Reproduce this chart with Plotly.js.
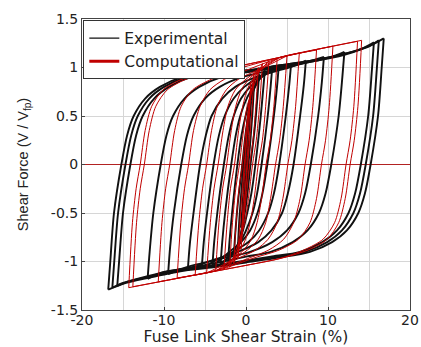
<!DOCTYPE html>
<html>
<head>
<meta charset="utf-8">
<script src="https://cdn.plot.ly/plotly-3.0.1.min.js"></script>
<style>html,body{margin:0;padding:0;background:#fff;}#chart{width:421px;height:347px;}</style>
</head>
<body>
<div id="chart"></div>
<script>
// ---- Experimental loops (each: descending branch then ascending branch, strain %, V/Vfp) ----
const expX_168 = [16.8,16.55,16.1,15.2,14.5,13.7,12.3,10.5,7.8,4,0,-4,-8,-12,-15,-16.8,-16.55,-16.1,-15.2,-14.5,-13.7,-12.3,-10.5,-7.8,-4,0,4,8,12,15,16.8];
const expY_168 = [1.30,1.0,0.5,0,-0.3,-0.5,-0.68,-0.8,-0.9,-0.96,-1.01,-1.06,-1.10,-1.17,-1.23,-1.29,-1.0,-0.5,0,0.3,0.5,0.68,0.8,0.9,0.95,0.97,1.02,1.07,1.14,1.22,1.30];
const expX_162 = [16.2,15.95,15.5,14.6,13.9,13.1,11.7,9.9,7.2,4,0,-4,-8,-12,-15,-16.3,-16.05,-15.6,-14.7,-14.0,-13.2,-11.8,-10.0,-7.3,-4,0,4,8,12,14.8,16.2];
const expY_162 = [1.28,0.98,0.5,0,-0.3,-0.5,-0.68,-0.8,-0.9,-0.95,-1.0,-1.05,-1.09,-1.16,-1.22,-1.27,-0.98,-0.5,0,0.3,0.5,0.68,0.8,0.9,0.95,0.97,1.02,1.07,1.14,1.21,1.28];
const expX_156 = [15.6,15.35,14.9,14.0,13.3,12.5,11.1,9.3,6.6,3,0,-4,-8,-12,-14.5,-15.7,-15.45,-15.0,-14.1,-13.4,-12.6,-11.2,-9.4,-6.7,-3,0,4,8,12,14.3,15.6];
const expY_156 = [1.26,0.97,0.5,0,-0.3,-0.5,-0.68,-0.8,-0.9,-0.95,-0.99,-1.04,-1.08,-1.15,-1.21,-1.25,-0.97,-0.5,0,0.3,0.5,0.68,0.8,0.9,0.94,0.96,1.01,1.06,1.13,1.20,1.26];
const expX_120 = [12,11.75,11.3,10.4,9.7,8.9,7.5,5.7,3,0,-4,-8,-10.5,-12,-11.75,-11.3,-10.4,-9.7,-8.9,-7.5,-5.7,-3,0,4,8,10.5,12];
const expY_120 = [1.16,0.9,0.5,0,-0.3,-0.5,-0.68,-0.8,-0.9,-0.95,-1.02,-1.08,-1.12,-1.18,-0.9,-0.5,0,0.3,0.5,0.68,0.8,0.9,0.95,1.0,1.06,1.11,1.16];
const expX_95 = [9.5,9.25,8.8,7.9,7.2,6.4,5.0,3.2,0.5,-3,-6,-8,-9.5,-9.25,-8.8,-7.9,-7.2,-6.4,-5.0,-3.2,-0.5,3,6,8,9.5];
const expY_95 = [1.11,0.85,0.5,0,-0.3,-0.5,-0.68,-0.8,-0.9,-0.97,-1.03,-1.08,-1.13,-0.85,-0.5,0,0.3,0.5,0.68,0.8,0.9,0.97,1.02,1.07,1.11];
const expX_72 = [7.3,7.05,6.6,5.8,5.1,4.4,3.1,1.5,-1.0,-3.5,-5.5,-7.1,-6.85,-6.4,-5.6,-4.9,-4.2,-2.9,-1.3,1.2,3.6,5.6,7.3];
const expY_72 = [1.07,0.82,0.5,0,-0.3,-0.5,-0.68,-0.8,-0.9,-0.97,-1.03,-1.09,-0.82,-0.5,0,0.3,0.5,0.68,0.8,0.9,0.96,1.01,1.07];
const expX_54 = [5.5,5.25,4.85,4.05,3.4,2.7,1.6,0.3,-1.6,-3.5,-5.4,-5.15,-4.75,-3.95,-3.3,-2.6,-1.5,-0.2,1.6,3.6,5.5];
const expY_54 = [1.04,0.8,0.5,0,-0.3,-0.5,-0.68,-0.8,-0.9,-0.98,-1.07,-0.8,-0.5,0,0.3,0.5,0.68,0.8,0.9,0.97,1.04];
const expX_40 = [4.0,3.78,3.4,2.6,2.0,1.4,0.5,-0.6,-2.0,-4.1,-3.88,-3.5,-2.7,-2.1,-1.5,-0.6,0.5,1.9,4.0];
const expY_40 = [1.02,0.8,0.5,0,-0.3,-0.5,-0.68,-0.8,-0.9,-1.05,-0.8,-0.5,0,0.3,0.5,0.68,0.8,0.9,1.02];
const expX_32 = [3.2,3.0,2.65,1.9,1.35,0.8,-0.1,-1.2,-3.1,-2.9,-2.55,-1.8,-1.25,-0.7,0.2,1.3,3.2];
const expY_32 = [1.0,0.8,0.5,0,-0.3,-0.5,-0.7,-0.87,-1.03,-0.8,-0.5,0,0.3,0.5,0.7,0.85,1.0];
const expX_22 = [2.3,2.1,1.8,1.15,0.65,0.15,-0.7,-2.2,-2.0,-1.7,-1.05,-0.55,-0.05,0.8,2.3];
const expY_22 = [0.97,0.78,0.5,0,-0.3,-0.5,-0.77,-1.0,-0.78,-0.5,0,0.3,0.5,0.75,0.97];
const expX_15 = [1.6,1.4,1.1,0.55,0.1,-0.55,-1.5,-1.3,-1.0,-0.45,0.0,0.65,1.6];
const expY_15 = [0.93,0.7,0.4,0,-0.35,-0.7,-0.96,-0.7,-0.4,0,0.35,0.68,0.93];
const expX_10 = [1.0,0.8,0.3,-0.2,-0.6,-1.0,-0.8,-0.3,0.2,0.6,1.0];
const expY_10 = [0.86,0.55,0,-0.45,-0.7,-0.88,-0.55,0,0.45,0.7,0.86];
const expX_06 = [0.6,0.25,-0.2,-0.6,-0.25,0.2,0.6];
const expY_06 = [0.65,0.2,-0.35,-0.65,-0.2,0.35,0.65];

// ---- Computational loops ----
const comX_141 = [14.1,13.65,13.2,12.7,12.1,11.3,9.9,7.6,4.6,0,-5,-10,-14.3,-13.85,-13.4,-12.9,-12.3,-11.5,-10.1,-7.8,-4.8,0,5,10,14.1];
const comY_141 = [1.28,0.6,0.25,0,-0.35,-0.6,-0.77,-0.88,-0.96,-1.04,-1.12,-1.2,-1.27,-0.6,-0.25,0,0.35,0.6,0.77,0.88,0.94,1.03,1.12,1.21,1.28];
const comX_136 = [13.6,13.15,12.7,12.2,11.6,10.8,9.4,7.1,4.1,0,-5,-10,-13.8,-13.35,-12.9,-12.4,-11.8,-11.0,-9.6,-7.3,-4.3,0,5,10,13.6];
const comY_136 = [1.27,0.6,0.25,0,-0.35,-0.6,-0.77,-0.88,-0.97,-1.04,-1.12,-1.2,-1.26,-0.6,-0.25,0,0.35,0.6,0.77,0.88,0.95,1.03,1.12,1.21,1.27];
const comX_106 = [10.6,10.15,9.7,9.2,8.6,7.8,6.4,4.1,1.1,-3,-7,-10.7,-10.25,-9.8,-9.3,-8.7,-7.9,-6.5,-4.2,-1.2,3,7,10.6];
const comY_106 = [1.22,0.6,0.25,0,-0.35,-0.6,-0.77,-0.88,-0.96,-1.08,-1.15,-1.21,-0.6,-0.25,0,0.35,0.6,0.77,0.88,0.98,1.08,1.16,1.22];
const comX_86 = [8.6,8.15,7.7,7.2,6.6,5.8,4.6,2.8,0.2,-4,-8.4,-7.95,-7.5,-7.0,-6.4,-5.6,-4.4,-2.6,0,4.5,8.6];
const comY_86 = [1.18,0.6,0.25,0,-0.35,-0.6,-0.77,-0.88,-0.97,-1.1,-1.17,-0.6,-0.25,0,0.35,0.6,0.77,0.88,0.97,1.11,1.18];
const comX_65 = [6.5,6.05,5.6,5.1,4.5,3.8,2.7,1.2,-1.0,-3.5,-6.2,-5.75,-5.3,-4.8,-4.2,-3.5,-2.4,-0.9,1.3,4.0,6.5];
const comY_65 = [1.15,0.6,0.25,0,-0.35,-0.6,-0.77,-0.88,-0.97,-1.09,-1.14,-0.6,-0.25,0,0.35,0.6,0.77,0.88,0.97,1.1,1.15];
const comX_50 = [5.0,4.55,4.1,3.6,3.0,2.4,1.5,0.2,-1.6,-4.8,-4.35,-3.9,-3.4,-2.8,-2.2,-1.3,0.0,1.8,5.0];
const comY_50 = [1.12,0.6,0.25,0,-0.35,-0.6,-0.77,-0.88,-0.98,-1.12,-0.6,-0.25,0,0.35,0.6,0.77,0.88,0.98,1.12];
const comX_38 = [3.8,3.4,2.95,2.45,1.9,1.35,0.6,-0.5,-3.7,-3.3,-2.85,-2.35,-1.8,-1.25,-0.5,0.6,3.8];
const comY_38 = [1.09,0.6,0.25,0,-0.35,-0.6,-0.78,-0.9,-1.10,-0.6,-0.25,0,0.35,0.6,0.78,0.9,1.09];
const comX_28 = [2.8,2.4,2.0,1.5,1.0,0.5,-0.3,-2.7,-2.3,-1.9,-1.4,-0.9,-0.4,0.4,2.8];
const comY_28 = [1.07,0.6,0.25,0,-0.35,-0.6,-0.82,-1.08,-0.6,-0.25,0,0.35,0.6,0.82,1.07];
const comX_20 = [2.0,1.65,1.25,0.8,0.3,-0.2,-2.0,-1.65,-1.25,-0.8,-0.3,0.2,2.0];
const comY_20 = [1.04,0.6,0.25,0,-0.35,-0.62,-1.06,-0.6,-0.25,0,0.35,0.62,1.04];
const comX_15 = [1.5,1.2,0.85,0.45,0.0,-0.5,-1.5,-1.2,-0.85,-0.45,0.0,0.5,1.5];
const comY_15 = [1.0,0.6,0.25,0,-0.35,-0.7,-1.02,-0.6,-0.25,0,0.35,0.7,1.0];
const comX_10 = [1.0,0.75,0.45,0.1,-0.3,-1.0,-0.75,-0.45,-0.1,0.3,1.0];
const comY_10 = [0.95,0.6,0.25,-0.1,-0.5,-0.97,-0.6,-0.25,0.1,0.5,0.95];
const comX_06 = [0.6,0.3,-0.1,-0.6,-0.3,0.1,0.6];
const comY_06 = [0.85,0.3,-0.3,-0.87,-0.3,0.3,0.85];

// ---- Axis ticks ----
const xTickVals = [-20,-10,0,10,20];
const xTickText = ['-20','-10','0','10','20'];
const yTickVals = [-1.5,-1,-0.5,0,0.5,1,1.5];
const yTickText = ['-1.5','-1','-0.5','0','0.5','1','1.5'];

const expLoops = [[expX_168,expY_168],[expX_162,expY_162],[expX_156,expY_156],[expX_120,expY_120],[expX_95,expY_95],[expX_72,expY_72],[expX_54,expY_54],[expX_40,expY_40],[expX_32,expY_32],[expX_22,expY_22],[expX_15,expY_15],[expX_10,expY_10],[expX_06,expY_06]];
const comLoops = [[comX_141,comY_141],[comX_136,comY_136],[comX_106,comY_106],[comX_86,comY_86],[comX_65,comY_65],[comX_50,comY_50],[comX_38,comY_38],[comX_28,comY_28],[comX_20,comY_20],[comX_15,comY_15],[comX_10,comY_10],[comX_06,comY_06]];

// split each loop at its negative peak into two branches (gaps keep splines separate)
function branches(loops){
  const X=[],Y=[];
  loops.forEach(([lx,ly])=>{
    let im=0; lx.forEach((v,i)=>{ if(v<lx[im]) im=i; });
    X.push(...lx.slice(0,im+1), null, ...lx.slice(im), null);
    Y.push(...ly.slice(0,im+1), null, ...ly.slice(im), null);
  });
  return {X,Y};
}
const e = branches(expLoops), c = branches(comLoops);
const black = '#111111', red = '#c00000';
const wide = 'DejaVu Sans, Verdana, sans-serif';
const narrow = 'Liberation Sans, Arial, sans-serif';

const traces = [
  {x:e.X, y:e.Y, mode:'lines', line:{color:black, width:1.9, shape:'spline', smoothing:0.8}, showlegend:false, hoverinfo:'skip'},
  {x:c.X, y:c.Y, mode:'lines', line:{color:red, width:1, shape:'spline', smoothing:0.8}, showlegend:false, hoverinfo:'skip'},
  {x:[null], y:[null], mode:'lines', name:'Experimental', line:{color:black, width:1.2}},
  {x:[null], y:[null], mode:'lines', name:'Computational', line:{color:red, width:3}}
];

const layout = {
  width:421, height:347,
  margin:{l:82, r:11, t:19, b:37},
  paper_bgcolor:'#fff', plot_bgcolor:'#fff',
  font:{family:wide, color:'#222', size:14},
  showlegend:true,
  legend:{x:0.004, y:0.995, xanchor:'left', yanchor:'top', bgcolor:'#fff', bordercolor:'#333', borderwidth:1,
          font:{family:wide, size:15.5, color:'#222'}, tracegroupgap:0, itemwidth:30},
  xaxis:{range:[-20,20], tickmode:'array', tickvals:xTickVals, ticktext:xTickText,
         showgrid:true, gridcolor:'#d6d6d6', gridwidth:1,
         minor:{tickmode:'linear', tick0:0, dtick:5, showgrid:true, gridcolor:'#d6d6d6', gridwidth:1},
         zeroline:false, showline:true, linecolor:'#444', linewidth:1, mirror:true,
         ticks:'inside', ticklen:3, tickcolor:'#444', ticklabelstandoff:-3,
         tickfont:{family:wide, size:14, color:'#222'},
         title:{text:'Fuse Link Shear Strain (%)', font:{family:wide, size:15.5, color:'#222'}, standoff:1},
         automargin:false},
  yaxis:{range:[-1.5,1.5], tickmode:'array', tickvals:yTickVals, ticktext:yTickText,
         showgrid:true, gridcolor:'#d6d6d6', gridwidth:1,
         zeroline:true, zerolinecolor:'#b22222', zerolinewidth:1,
         showline:true, linecolor:'#444', linewidth:1, mirror:true,
         ticks:'inside', ticklen:3, tickcolor:'#444',
         tickfont:{family:wide, size:14, color:'#222'},
         title:{text:'Shear Force (V / V<sub>fp</sub>)', font:{family:narrow, size:14.5, color:'#222'}, standoff:18},
         automargin:false}
};

Plotly.newPlot('chart', traces, layout, {staticPlot:true, displayModeBar:false});
</script>
</body>
</html>
